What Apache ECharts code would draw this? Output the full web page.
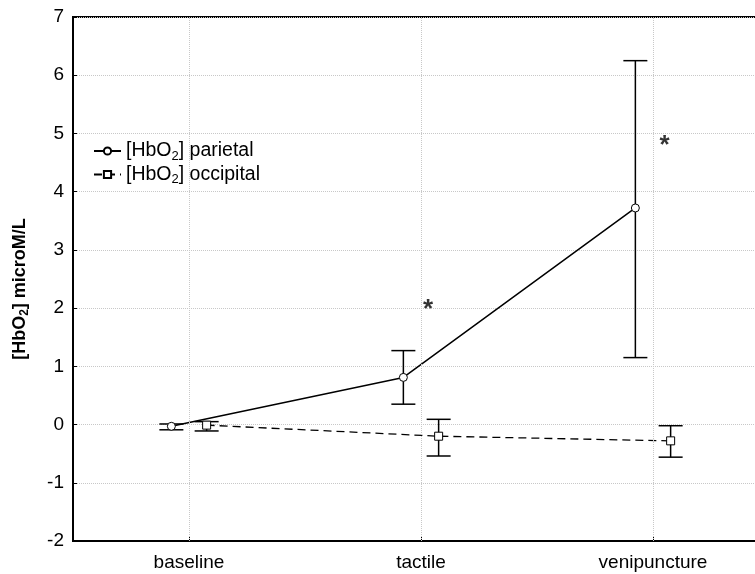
<!DOCTYPE html>
<html>
<head>
<meta charset="utf-8">
<script src="https://cdn.jsdelivr.net/npm/echarts@6/dist/echarts.min.js"></script>
<style>html,body{margin:0;padding:0;background:#fff}#c{width:755px;height:574px}</style>
</head>
<body>
<div id="c"></div>
<script>
var categories = ['baseline', 'tactile', 'venipuncture'];
var yTicks = [-2, -1, 0, 1, 2, 3, 4, 5, 6, 7];
var parietalMean = [-0.03, 0.81, 3.72];
var parietalLow = [-0.09, 0.35, 1.15];
var parietalHigh = [0.01, 1.27, 6.25];
var occipitalMean = [-0.01, -0.20, -0.28];
var occipitalLow = [-0.11, -0.54, -0.56];
var occipitalHigh = [0.05, 0.09, -0.02];
var starCats = [1, 2];
var starValues = [2.09, 4.9];

var OFF = 0.076; // horizontal jitter of the two series within a category
var FONT = 'Liberation Sans, Arial, sans-serif';

function pts(mean, off) { return mean.map(function (v, i) { return [i + off, v]; }); }
function bars(lo, hi, off) { return lo.map(function (v, i) { return [i + off, v, hi[i]]; }); }

function errRender(params, api) {
  var x = api.value(0);
  var lo = api.coord([x, api.value(1)]);
  var hi = api.coord([x, api.value(2)]);
  var hw = 12;
  var st = { stroke: '#000', lineWidth: 1.5 };
  return {
    type: 'group',
    children: [
      { type: 'line', shape: { x1: lo[0], y1: lo[1], x2: hi[0], y2: hi[1] }, style: st },
      { type: 'line', shape: { x1: lo[0] - hw, y1: lo[1], x2: lo[0] + hw, y2: lo[1] }, style: st },
      { type: 'line', shape: { x1: hi[0] - hw, y1: hi[1], x2: hi[0] + hw, y2: hi[1] }, style: st }
    ]
  };
}

var rich = {
  a: { fontSize: 19.5, lineHeight: 23, fontFamily: FONT, color: '#000' },
  s: { fontSize: 13, lineHeight: 13, verticalAlign: 'bottom', fontFamily: FONT, color: '#000' }
};
var richB = {
  a: { fontSize: 18, lineHeight: 22, fontFamily: FONT, fontWeight: 'bold', color: '#000' },
  s: { fontSize: 12, lineHeight: 12, verticalAlign: 'bottom', fontFamily: FONT, fontWeight: 'bold', color: '#000' }
};

var chart = echarts.init(document.getElementById('c'), null, { renderer: 'canvas' });
chart.setOption({
  animation: false,
  backgroundColor: '#fff',
  textStyle: { fontFamily: FONT },
  grid: { left: 73, top: 17, width: 696, bottom: 33, show: true, borderColor: '#000', borderWidth: 2, containLabel: false, outerBoundsMode: 'none' },
  legend: {
    data: ['parietal', 'occipital'],
    orient: 'vertical',
    left: 88,
    top: 136,
    itemWidth: 27,
    itemHeight: 9,
    itemGap: 2,
    formatter: function (n) { return '{a|[HbO}{s|2}{a|] ' + n + '}'; },
    textStyle: { rich: rich, padding: [0, 0, 0, 0] }
  },
  xAxis: [
    { type: 'value', min: -0.5, max: 2.5, show: false },
    {
      type: 'category', data: categories, boundaryGap: true, position: 'bottom',
      axisLine: { show: true, lineStyle: { color: '#000', width: 2 } },
      axisTick: { show: true, alignWithLabel: true, inside: true, length: 4, lineStyle: { color: '#000' } },
      axisLabel: { color: '#000', fontSize: 19, margin: 12, fontFamily: FONT },
      splitLine: { show: false }
    }
  ],
  yAxis: {
    type: 'value', min: yTicks[0], max: yTicks[yTicks.length - 1], interval: 1,
    name: '{a|[HbO}{s|2}{a|] microM/L}',
    nameLocation: 'middle', nameGap: 42,
    nameTextStyle: { rich: richB, padding: [0, 20, 0, 0] },
    axisLine: { show: true, onZero: false, lineStyle: { color: '#000', width: 2 } },
    axisTick: { show: true, inside: true, length: 4, lineStyle: { color: '#000' } },
    axisLabel: { color: '#000', fontSize: 19, margin: 9, fontFamily: FONT },
    splitLine: { show: true, lineStyle: { color: '#c8c8c8', type: 'dotted', width: 1 } }
  },
  series: [
    {
      name: 'vgrid', type: 'line', data: [], xAxisIndex: 0, silent: true, z: 0,
      markLine: {
        silent: true, symbol: 'none', label: { show: false },
        lineStyle: { color: '#c8c8c8', type: 'dotted', width: 1 },
        data: categories.map(function (c, i) { return { xAxis: i }; })
      }
    },
    {
      name: 'parietal', type: 'line', xAxisIndex: 0, data: pts(parietalMean, -OFF),
      symbol: 'circle', symbolSize: 8, z: 4,
      itemStyle: { color: '#fff', borderColor: '#000', borderWidth: 1 },
      lineStyle: { color: '#000', width: 1.5, type: 'solid' }
    },
    {
      name: 'occipital', type: 'line', xAxisIndex: 0, data: pts(occipitalMean, OFF),
      symbol: 'rect', symbolSize: 8, z: 4,
      itemStyle: { color: '#fff', borderColor: '#000', borderWidth: 1 },
      lineStyle: { color: '#000', width: 1.3, type: [8, 5] }
    },
    {
      name: 'errP', type: 'custom', xAxisIndex: 0, data: bars(parietalLow, parietalHigh, -OFF),
      renderItem: errRender, z: 3, encode: { x: 0, y: [1, 2] }
    },
    {
      name: 'errO', type: 'custom', xAxisIndex: 0, data: bars(occipitalLow, occipitalHigh, OFF),
      renderItem: errRender, z: 3, encode: { x: 0, y: [1, 2] }
    },
    {
      name: 'stars', type: 'scatter', xAxisIndex: 0, symbolSize: 0, silent: true,
      data: starCats.map(function (c, i) { return [c + (i === 0 ? 0.03 : 0.05), starValues[i]]; }),
      label: { show: true, formatter: '*', position: 'inside', fontSize: 26, fontWeight: 'bold', color: '#000', fontFamily: FONT, offset: [0, 7] }
    }
  ]
});
</script>
</body>
</html>
